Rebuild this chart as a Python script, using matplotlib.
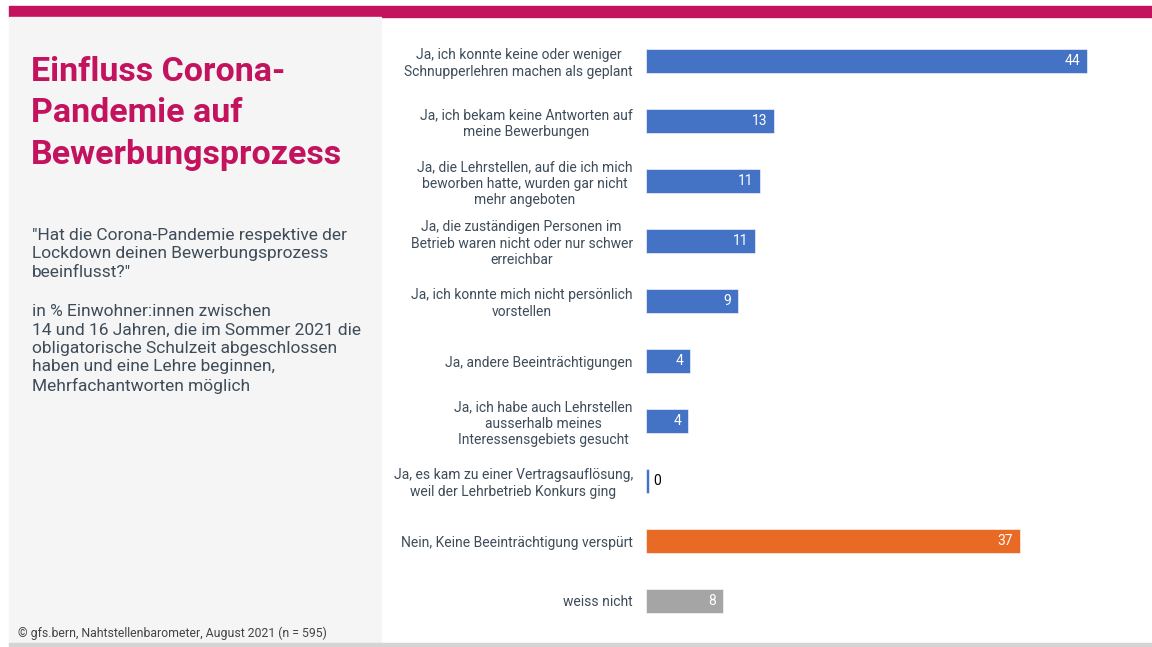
import matplotlib
matplotlib.use("Agg")
import matplotlib.pyplot as plt
from matplotlib.patches import Rectangle

plt.rcParams['font.family'] = ['Roboto', 'DejaVu Sans']

# answers and shares in %
categories = [
    "Ja, ich konnte keine oder weniger\nSchnupperlehren machen als geplant",
    "Ja, ich bekam keine Antworten auf\nmeine Bewerbungen",
    "Ja, die Lehrstellen, auf die ich mich\nbeworben hatte, wurden gar nicht\nmehr angeboten",
    "Ja, die zuständigen Personen im\nBetrieb waren nicht oder nur schwer\nerreichbar",
    "Ja, ich konnte mich nicht persönlich\nvorstellen",
    "Ja, andere Beeinträchtigungen",
    "Ja, ich habe auch Lehrstellen\nausserhalb meines\nInteressensgebiets gesucht",
    "Ja, es kam zu einer Vertragsauflösung,\nweil der Lehrbetrieb Konkurs ging",
    "Nein, Keine Beeinträchtigung verspürt",
    "weiss nicht",
]
values = [44.1, 12.8, 11.4, 10.9, 9.2, 4.4, 4.2, 0.3, 37.4, 7.7]
groups = ["ja"] * 8 + ["nein", "wn"]

title = "Einfluss Corona-\nPandemie auf\nBewerbungsprozess"
question = ('"Hat die Corona-Pandemie respektive der\n'
            'Lockdown deinen Bewerbungsprozess\nbeeinflusst?"')
basis = ("in % Einwohner:innen zwischen\n14 und 16 Jahren, die im Sommer 2021 die\n"
         "obligatorische Schulzeit abgeschlossen\nhaben und eine Lehre beginnen,\n"
         "Mehrfachantworten möglich")
source = "© gfs.bern, Nahtstellenbarometer, August 2021 (n = 595)"

colors = {"ja": "#4472C4", "nein": "#E96A25", "wn": "#A5A5A5"}
magenta = "#C4135E"
text_col = "#3E4C59"

W, H = 1152, 647
fig = plt.figure(figsize=(W / 100, H / 100), dpi=100)


def fx(px):
    return px / W


def fy(py):
    return 1 - py / H


def rect(x0, y0, x1, y1, color):
    fig.patches.append(Rectangle((fx(x0), fy(y1)), fx(x1) - fx(x0), fy(y0) - fy(y1),
                                 transform=fig.transFigure, color=color, zorder=0))


# frame: top band, left panel, bottom line
rect(9, 6, W, 17, magenta)
rect(9, 17, 381, 643, "#F5F5F5")
rect(9, 643, W, 647, "#D4D4D4")

fig.text(fx(31), fy(56), title, color=magenta, fontsize=24.5, fontweight="bold",
         va="top", ha="left", linespacing=1.38)
fig.text(fx(32), fy(228), question, color=text_col, fontsize=12.5,
         va="top", ha="left", linespacing=1.28)
fig.text(fx(32), fy(304), basis, color=text_col, fontsize=12.5,
         va="top", ha="left", linespacing=1.28)
fig.text(fx(18), fy(633), source, color="#444444", fontsize=8.8, va="center", ha="left")

ax = fig.add_axes([fx(646), fy(631), 500 / W, 600 / H])
ax.set_facecolor("none")
ypos = list(range(len(values)))
ax.barh(ypos, values, height=0.39, color=[colors[g] for g in groups],
        edgecolor="white", linewidth=0.4)
ax.set_xlim(0, 50)
ax.set_ylim(len(values) - 0.5, -0.5)
for s in ax.spines.values():
    s.set_visible(False)
ax.set_xticks([])
ax.set_yticks(ypos)
ax.set_yticklabels(categories, multialignment="center", color=text_col, fontsize=10)
ax.tick_params(axis="y", length=0, pad=9.5)

for i, v in enumerate(values):
    lab = f"{v:.0f}"
    if v < 2:
        ax.annotate(lab, (v, i), xytext=(4, 0), textcoords="offset pixels",
                    ha="left", va="center", color="black", fontsize=10)
    else:
        ax.annotate(lab, (v, i), xytext=(-7, 0), textcoords="offset pixels",
                    ha="right", va="center", color="white", fontsize=10)

fig.savefig("out.png", dpi=100)
